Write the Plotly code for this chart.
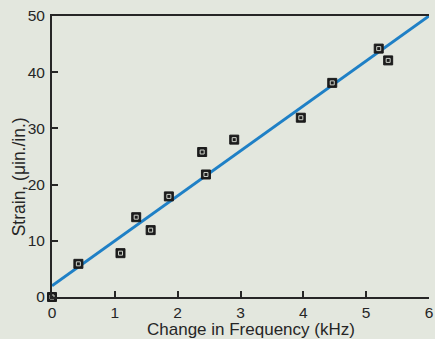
import plotly.graph_objects as go

# Measured strain versus change in resonant frequency
freq_khz = [0.0, 0.42, 1.09, 1.34, 1.57, 1.86, 2.39, 2.45, 2.90, 3.96, 4.46, 5.20, 5.35]
strain = [0.0, 5.9, 7.8, 14.2, 11.9, 17.9, 25.8, 21.8, 28.0, 31.9, 38.1, 44.2, 42.1]

# Least-squares calibration line end points
fit_x = [0.0, 6.0]
fit_y = [2.0, 50.0]

x_ticks = [0, 1, 2, 3, 4, 5, 6]
y_ticks = [0, 10, 20, 30, 40, 50]

bg = "#e3e7de"
ink = "#262626"
font = "Liberation Sans, Arial, sans-serif"

# Plot area in page pixels
L, R, T, B = 52, 433, 16, 297
W, H = 435, 339

fig = go.Figure()
fig.add_trace(go.Scatter(
    x=fit_x, y=fit_y, mode="lines",
    line=dict(color="#1f80c6", width=3), cliponaxis=False, hoverinfo="skip"))
fig.add_trace(go.Scatter(
    x=freq_khz, y=strain, mode="markers", cliponaxis=False,
    marker=dict(symbol="square", size=9, color="#1c1c1c",
                line=dict(color="#1c1c1c", width=1))))
fig.add_trace(go.Scatter(
    x=freq_khz, y=strain, mode="markers", cliponaxis=False, hoverinfo="skip",
    marker=dict(symbol="square-open", size=4, color="#cfd3ca",
                line=dict(color="#cfd3ca", width=1))))

axis_common = dict(ticks="inside", ticklen=6, tickwidth=2, tickcolor=ink,
                   showline=True, linewidth=2, linecolor=ink,
                   showgrid=False, zeroline=False,
                   tickfont=dict(size=15.5))

fig.update_layout(
    width=W, height=H,
    margin=dict(l=L, r=W - R, t=T, b=H - B),
    paper_bgcolor=bg, plot_bgcolor=bg,
    showlegend=False,
    font=dict(family=font, size=16, color=ink),
    xaxis=dict(range=[0, 6], tickvals=x_ticks, mirror=True,
               ticklabelstandoff=0, ticklabeloverflow="allow", **axis_common),
    yaxis=dict(range=[0, 50], tickvals=y_ticks, ticklabelstandoff=2,
               ticklabeloverflow="allow", **axis_common),
)

fig.add_annotation(text="Change in Frequency (kHz)", xref="paper", yref="paper",
                   x=(253 - L) / (R - L), y=-(329.5 - B) / (B - T),
                   showarrow=False, xanchor="center", yanchor="middle",
                   font=dict(size=17))
fig.add_annotation(text="Strain, (μin./in.)", xref="paper", yref="paper",
                   x=-(L - 19) / (R - L), y=(B - 177) / (B - T),
                   showarrow=False, textangle=-90, xanchor="center",
                   yanchor="middle", font=dict(size=17.5))

fig.write_html("out.html")
